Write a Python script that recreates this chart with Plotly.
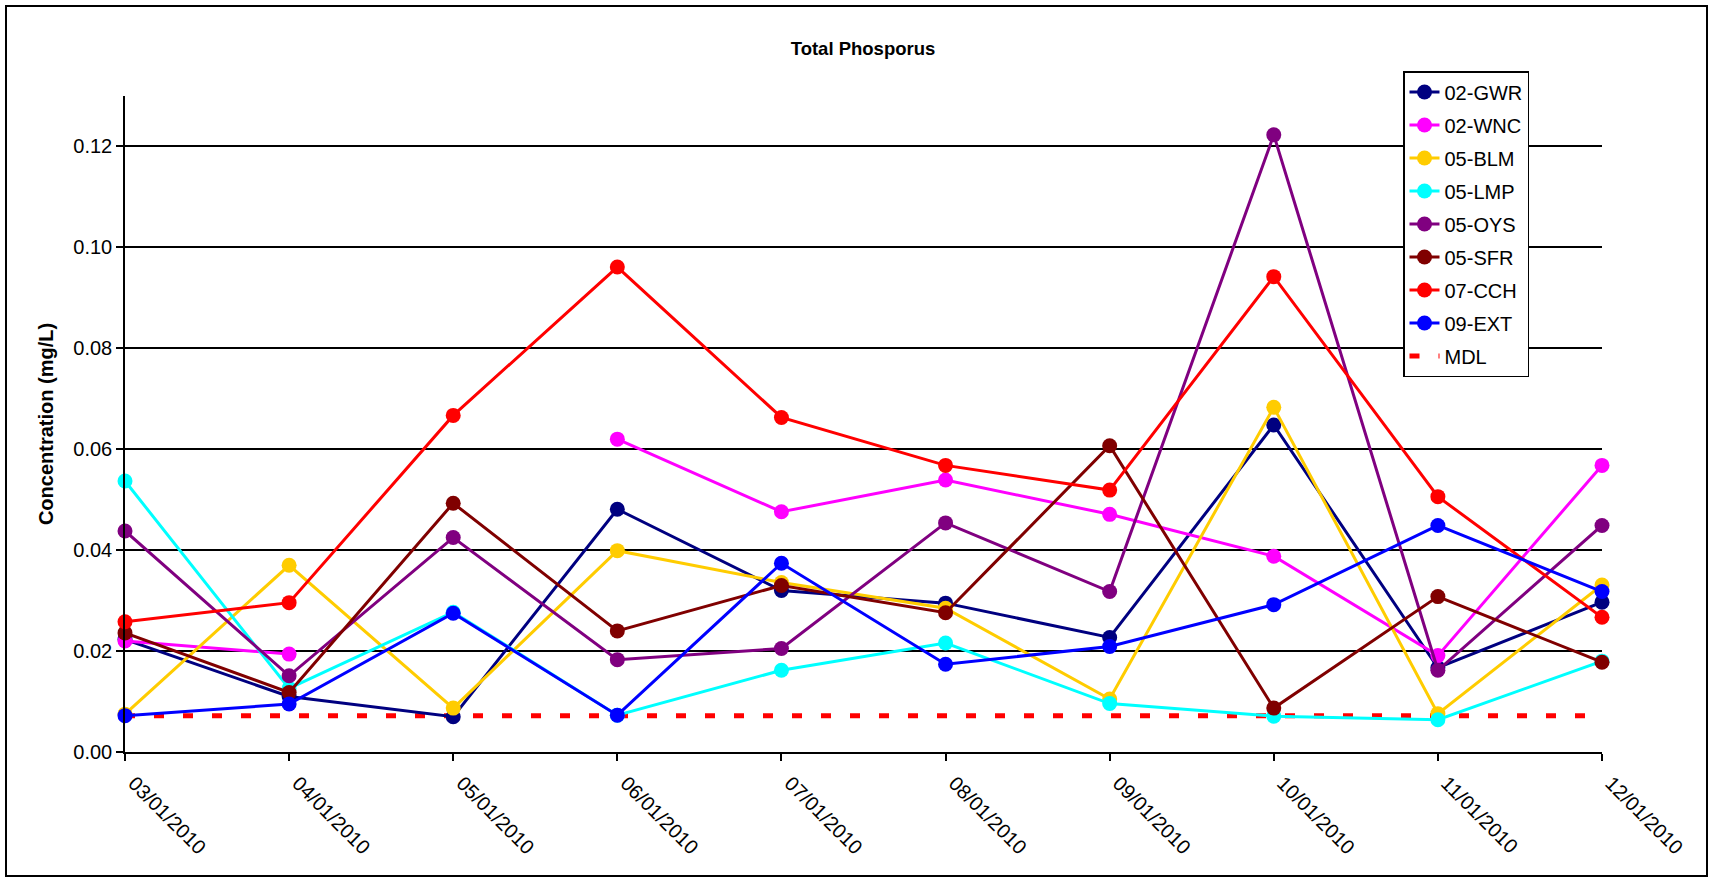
import plotly.graph_objects as go

categories = ["03/01/2010", "04/01/2010", "05/01/2010", "06/01/2010", "07/01/2010",
              "08/01/2010", "09/01/2010", "10/01/2010", "11/01/2010", "12/01/2010"]

gwr_02 = [0.0223, 0.0110, 0.0070, 0.0481, 0.0320, 0.0295, 0.0227, 0.0648, 0.0167, 0.0297]
wnc_02 = [0.0220, 0.0194, None, 0.0620, 0.0476, 0.0539, 0.0471, 0.0388, 0.0191, 0.0568]
blm_05 = [0.0075, 0.0370, 0.0087, 0.0399, 0.0336, 0.0285, 0.0105, 0.0683, 0.0076, 0.0331]
lmp_05 = [0.0537, 0.0126, 0.0277, 0.0073, 0.0162, 0.0216, 0.0096, 0.0071, 0.0064, 0.0180]
oys_05 = [0.0438, 0.0151, 0.0425, 0.0183, 0.0205, 0.0454, 0.0318, 0.1223, 0.0162, 0.0449]
sfr_05 = [0.0236, 0.0118, 0.0493, 0.0240, 0.0330, 0.0276, 0.0607, 0.0087, 0.0308, 0.0178]
cch_07 = [0.0258, 0.0296, 0.0667, 0.0961, 0.0663, 0.0568, 0.0519, 0.0942, 0.0506, 0.0267]
ext_09 = [0.0072, 0.0095, 0.0275, 0.0073, 0.0374, 0.0174, 0.0209, 0.0292, 0.0449, 0.0318]
mdl = [0.0072, 0.0072, 0.0072, 0.0072, 0.0072, 0.0072, 0.0072, 0.0072, 0.0072, 0.0072]

series_names = ["02-GWR", "02-WNC", "05-BLM", "05-LMP", "05-OYS", "05-SFR", "07-CCH", "09-EXT"]
series_values = [gwr_02, wnc_02, blm_05, lmp_05, oys_05, sfr_05, cch_07, ext_09]
series_colors = ["#000080", "#FF00FF", "#FFCC00", "#00FFFF", "#800080", "#800000", "#FF0000", "#0000FF"]

FONT = "Liberation Sans, Arial, sans-serif"
W, H = 1713, 882
L, R, T, B = 125, 111, 96, 130
PW, PH = W - L - R, H - T - B

fig = go.Figure()

# MDL drawn first (beneath markers) but listed last in legend
fig.add_trace(go.Scatter(
    x=categories, y=mdl, name="MDL", mode="lines",
    line=dict(color="#FF0000", width=5, dash="10px,19px"),
    legendgroup="MDL", legendrank=900, cliponaxis=False,
))

for i, (name, vals, col) in enumerate(zip(series_names, series_values, series_colors)):
    fig.add_trace(go.Scatter(
        x=categories, y=vals, name=name, mode="lines+markers",
        line=dict(color=col, width=3),
        marker=dict(color=col, size=15),
        connectgaps=False, legendgroup=name, legendrank=100 + i,
        cliponaxis=False,
    ))

def px_x(p):
    return (p - L) / PW

def px_y(p):
    return (H - B - p) / PH

fig.update_layout(
    width=W, height=H,
    margin=dict(l=L, r=R, t=T, b=B, pad=0),
    paper_bgcolor="white", plot_bgcolor="white",
    font=dict(family=FONT, size=20, color="black"),
    title=dict(text="<b>Total Phosporus</b>", x=863 / W, xanchor="center",
               y=1 - 49 / H, yanchor="middle", xref="container", yref="container",
               font=dict(size=18.5, family=FONT, color="black")),
    showlegend=True,
    legend=dict(
        x=px_x(1403), y=px_y(71), xanchor="left", yanchor="top",
        bgcolor="white", bordercolor="black", borderwidth=1.5,
        font=dict(size=20, family=FONT, color="black"),
        traceorder="grouped", tracegroupgap=4,
    ),
    xaxis=dict(
        type="category", range=[0, len(categories) - 1],
        showgrid=False, showline=True, linecolor="black", linewidth=1.5,
        ticks="outside", ticklen=7, tickcolor="black", tickwidth=1.5,
        tickangle=45, tickfont=dict(size=20, family=FONT, color="black"),
        ticklabelshift=9, ticklabelstandoff=3,
        zeroline=False,
    ),
    yaxis=dict(
        range=[0, 0.13], tick0=0, dtick=0.02, tickformat=".2f",
        showgrid=True, gridcolor="black", gridwidth=1.5,
        showline=True, linecolor="black", linewidth=1.5,
        ticks="outside", ticklen=7, tickcolor="black", tickwidth=1.5,
        tickfont=dict(size=20, family=FONT, color="black"),
        zeroline=False,
        title=dict(text="<b>Concentration (mg/L)</b>", standoff=14,
                   font=dict(size=20, family=FONT, color="black")),
    ),
    shapes=[dict(
        type="rect", xref="paper", yref="paper",
        x0=px_x(6), x1=px_x(1707), y0=px_y(876), y1=px_y(6),
        line=dict(color="black", width=2), fillcolor="rgba(0,0,0,0)", layer="below",
    )],
)

fig.write_html("out.html", config={"displayModeBar": False},
               post_script="document.body.style.margin='0';document.body.style.overflow='hidden';")
